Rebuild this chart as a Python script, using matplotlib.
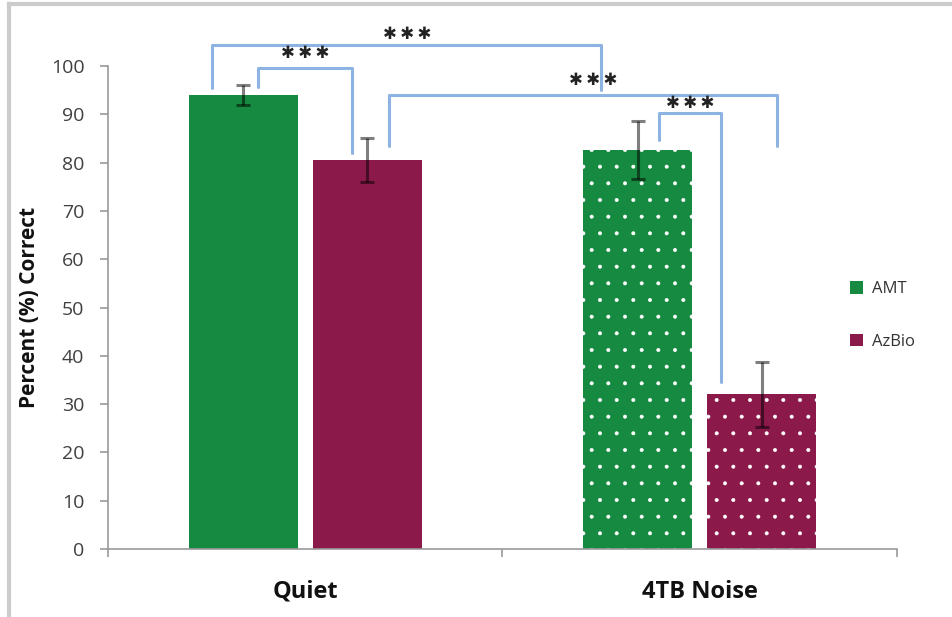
"""Percent correct for AMT and AzBio in quiet and 4TB noise."""

import matplotlib.pyplot as plt
from matplotlib.lines import Line2D
from matplotlib.patches import Patch
import numpy as np

conditions = ["Quiet", "4TB Noise"]
amt_mean = [94.0, 82.6]
amt_err = [2.0, 6.0]
azbio_mean = [80.5, 32.0]
azbio_err = [4.5, 6.7]

# significance brackets: (x left, x right, top, left foot, right foot, label)
estrelas = "✱\u2009✱\u2009✱"
brackets = [
    (-0.237, 0.750, 104.3, 95.4, 95.0, estrelas),
    (-0.119, 0.119, 99.6, 95.7, 82.0, estrelas),
    (0.212, 1.197, 94.0, 83.4, 83.4, estrelas),
    (0.896, 1.053, 90.3, 84.7, 34.6, estrelas),
]
star_pos = [(0.258, 106.6), (0.0, 102.6), (0.73, 97.2), (0.977, 92.4)]


def main() -> None:
    plt.rcParams["font.family"] = ["Open Sans", "DejaVu Sans"]
    plt.rcParams["hatch.linewidth"] = 0.4

    verde = "#168a40"
    vinho = "#8b1a4b"
    azul = "#8db3e2"

    fig = plt.figure(figsize=(9.52, 6.17), dpi=100)
    ax = fig.add_axes([0.1134, 0.1102, 0.8288, 0.7828])

    x = np.arange(len(conditions))
    largura = 0.276
    desloc = 0.157
    hatches = ["", "."]

    for i in range(len(conditions)):
        ax.bar(x[i] - desloc, amt_mean[i], largura, color=verde,
               edgecolor="white", linewidth=0, hatch=hatches[i], zorder=2)
        ax.bar(x[i] + desloc, azbio_mean[i], largura, color=vinho,
               edgecolor="white", linewidth=0, hatch=hatches[i], zorder=2)

    erro_kw = dict(fmt="none", ecolor=(0, 0, 0, 0.5), elinewidth=2.2,
                   capsize=5, capthick=2.2, zorder=3)
    ax.errorbar(x - desloc, amt_mean, yerr=amt_err, **erro_kw)
    ax.errorbar(x + desloc, azbio_mean, yerr=azbio_err, **erro_kw)

    for xe, xd, topo, pe, pd, _ in brackets:
        ax.plot([xe, xe, xd, xd], [pe, topo, topo, pd], color=azul,
                lw=2.2, solid_joinstyle="round", solid_capstyle="round",
                clip_on=False, zorder=4)
    for (xs, ys), b in zip(star_pos, brackets):
        ax.text(xs, ys, b[5], ha="center", va="center", fontsize=12,
                family="DejaVu Sans", color="#222222", zorder=5)

    ax.set_xlim(-0.5, 1.5)
    ax.set_ylim(0, 100)
    ax.set_yticks(range(0, 101, 10))
    ax.set_xticks([-0.5, 0.5, 1.5])
    ax.set_xticklabels([])
    ax.set_xticks(x, minor=True)
    ax.set_xticklabels(conditions, minor=True, fontsize=17,
                       fontweight="bold", color="#111111")
    ax.tick_params(axis="x", which="minor", length=0, pad=22)
    ax.tick_params(axis="x", which="major", length=6, color="#999999",
                   width=1.2)
    ax.tick_params(axis="y", length=6, color="#999999", width=1.2,
                   labelsize=14, labelcolor="#404040", pad=11)

    for lado in ["top", "right"]:
        ax.spines[lado].set_visible(False)
    for lado in ["left", "bottom"]:
        ax.spines[lado].set_color("#999999")
        ax.spines[lado].set_linewidth(1.2)

    ax.set_ylabel("Percent (%) Correct", fontsize=15, fontweight="bold",
                  color="#111111", labelpad=8)

    handles = [Patch(facecolor=verde, label="AMT"),
               Patch(facecolor=vinho, label="AzBio")]
    fig.legend(handles=handles, loc="center left",
               bbox_to_anchor=(0.877, 0.489), frameon=False, fontsize=12,
               handlelength=0.8, handleheight=0.8, handletextpad=0.5,
               labelspacing=2.2, labelcolor="#333333")

    # moldura cinza do recorte original
    fig.add_artist(Line2D([9 / 952, 1], [1 - 4 / 617, 1 - 4 / 617],
                          color="#cccccc", lw=3, transform=fig.transFigure))
    fig.add_artist(Line2D([9 / 952, 9 / 952], [0, 1 - 4 / 617],
                          color="#cccccc", lw=3, transform=fig.transFigure))

    fig.savefig("out.png", dpi=100)
    plt.close(fig)


if __name__ == "__main__":
    main()
